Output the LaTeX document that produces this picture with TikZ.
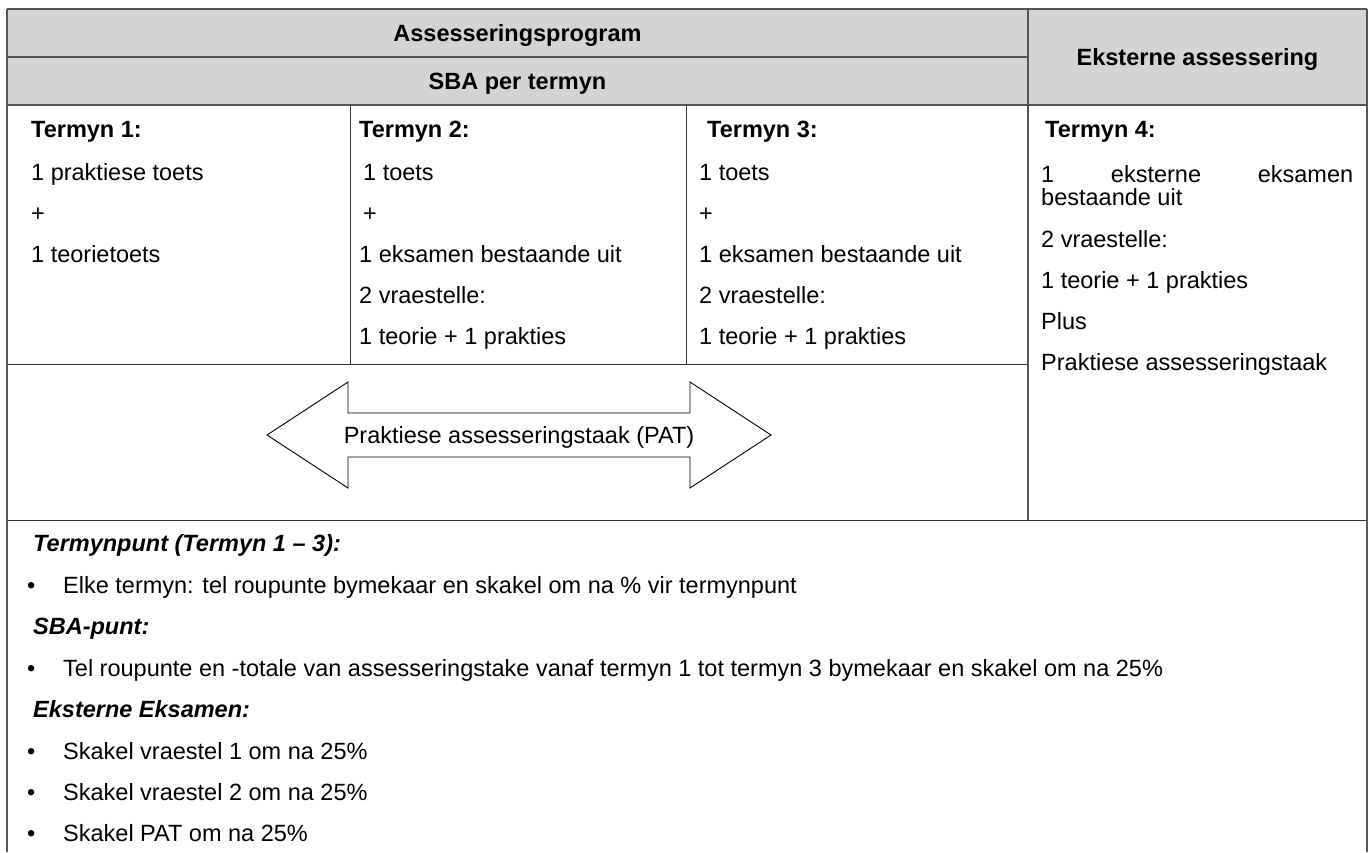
\documentclass[tikz,border=0pt]{standalone}
\usepackage{fontspec}
\setmainfont{Liberation Sans}
\usetikzlibrary{positioning}

\definecolor{headgrey}{RGB}{211,212,214}
\definecolor{rulegrey}{RGB}{85,85,85}

\tikzset{
    celltxt/.style={anchor=base west, inner sep=0pt, font=\fontsize{23.5}{28}\selectfont},
    termtxt/.style={anchor=base west, inner sep=0pt, font=\fontsize{23.5}{28}\selectfont\bfseries},
    notetxt/.style={anchor=base west, inner sep=0pt, font=\fontsize{23.5}{28}\selectfont\bfseries\itshape},
    headtxt/.style={anchor=base, inner sep=0pt, font=\fontsize{23.5}{28}\selectfont\bfseries},
    heavyrule/.style={draw=rulegrey, line width=2pt},
    lightrule/.style={draw=black!80, line width=1pt},
    patarrow/.style={draw=black, line width=0.9pt, fill=white, line join=miter}
}

\begin{document}
\begin{tikzpicture}[x=1pt,y=-1pt]
    \useasboundingbox (0,0) rectangle (1372,852);
    % Header
    \fill[headgrey] (7,9) rectangle (1367,105);
    % Rules
    \draw[lightrule] (350,105) -- (350,364);
    \draw[lightrule] (686,105) -- (686,364);
    \draw[lightrule] (7,364) -- (1028,364);
    \draw[lightrule] (7,520) -- (1367,520);
    \draw[heavyrule] (7,9) -- (1367,9);
    \draw[heavyrule] (7,57) -- (1028,57);
    \draw[heavyrule] (7,105) -- (1367,105);
    \draw[heavyrule] (1028,9) -- (1028,520);
    \draw[heavyrule] (7,9) -- (7,852);
    \draw[heavyrule] (1367,9) -- (1367,852);
    % Labels
    \node[headtxt] (prog) at (517.5,41.5) {Assesseringsprogram};
    \node[headtxt] (sba) at (517.5,89.5) {SBA per termyn};
    \node[headtxt] (ext) at (1197.5,65.5) {Eksterne assessering};
    % Termyn 1
    \node[termtxt] (tone) at (31,137) {Termyn 1:};
    \node[celltxt] (toneA) at (31,180.5) {1 praktiese toets};
    \node[celltxt] (toneB) at (31,221.5) {+};
    \node[celltxt] (toneC) at (31,262.5) {1 teorietoets};
    % Termyn 2
    \node[termtxt] (ttwo) at (359,137) {Termyn 2:};
    \node[celltxt] (ttwoA) at (363,180.5) {1 toets};
    \node[celltxt] (ttwoB) at (363,221.5) {+};
    \node[celltxt] (ttwoC) at (359,262.5) {1 eksamen bestaande uit};
    \node[celltxt] (ttwoD) at (359,303.5) {2 vraestelle:};
    \node[celltxt] (ttwoE) at (359,344.5) {1 teorie + 1 prakties};
    % Termyn 3
    \node[termtxt] (tthree) at (707,137) {Termyn 3:};
    \node[celltxt] (tthreeA) at (699,180.5) {1 toets};
    \node[celltxt] (tthreeB) at (699,221.5) {+};
    \node[celltxt] (tthreeC) at (699,262.5) {1 eksamen bestaande uit};
    \node[celltxt] (tthreeD) at (699,303.5) {2 vraestelle:};
    \node[celltxt] (tthreeE) at (699,344.5) {1 teorie + 1 prakties};
    % Termyn 4
    \node[termtxt] (tfour) at (1045,137) {Termyn 4:};
    \node[celltxt] (tfourA) at (1041,182.5) {\makebox[312pt][s]{1 eksterne eksamen}};
    \node[celltxt] (tfourB) at (1041,205.5) {bestaande uit};
    \node[celltxt] (tfourC) at (1041,247.5) {2 vraestelle:};
    \node[celltxt] (tfourD) at (1041,288.5) {1 teorie + 1 prakties};
    \node[celltxt] (tfourE) at (1041,329.5) {Plus};
    \node[celltxt] (tfourF) at (1041,370.5) {Praktiese assesseringstaak};
    % PAT arrow
    \draw[patarrow] (267,435) -- (348,382) -- (348,413) -- (690,413) -- (690,382)
        -- (771,435) -- (690,488) -- (690,457) -- (348,457) -- (348,488) -- cycle;
    \node[headtxt, font=\fontsize{23.5}{28}\selectfont] (pat) at (519,443.5) {Praktiese assesseringstaak (PAT)};
    % Notes
    \node[notetxt] (npunt) at (33,551.5) {Termynpunt (Termyn 1 – 3):};
    \node[celltxt] (bone) at (27,593.5) {•};
    \node[celltxt] (none) at (63,593.5) {Elke termyn: tel roupunte bymekaar en skakel om na \% vir termynpunt};
    \node[notetxt] (nsba) at (33,634.5) {SBA-punt:};
    \node[celltxt] (btwo) at (27,676.5) {•};
    \node[celltxt] (ntwo) at (63,676.5) {Tel roupunte en -totale van assesseringstake vanaf termyn 1 tot termyn 3 bymekaar en skakel om na 25\%};
    \node[notetxt] (neks) at (33,717.5) {Eksterne Eksamen:};
    \node[celltxt] (bthree) at (27,759.5) {•};
    \node[celltxt] (nthree) at (63,759.5) {Skakel vraestel 1 om na 25\%};
    \node[celltxt] (bfour) at (27,800.5) {•};
    \node[celltxt] (nfour) at (63,800.5) {Skakel vraestel 2 om na 25\%};
    \node[celltxt] (bfive) at (27,841.5) {•};
    \node[celltxt] (nfive) at (63,841.5) {Skakel PAT om na 25\%};
\end{tikzpicture}
\end{document}
